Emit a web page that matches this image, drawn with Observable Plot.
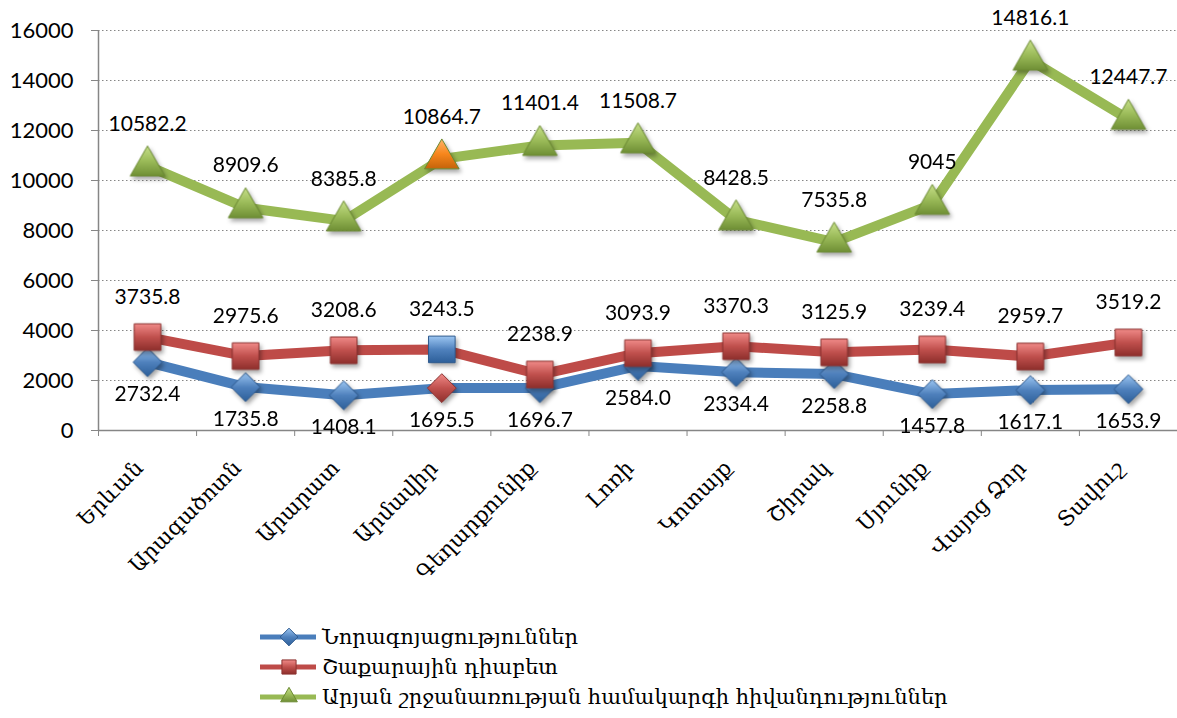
<!DOCTYPE html>
<html><head><meta charset="utf-8">
<script src="https://cdn.jsdelivr.net/npm/d3@7"></script>
<script src="https://cdn.jsdelivr.net/npm/@observablehq/plot@0.6"></script>
<style>
body{margin:0;background:#fff;}
#chart{width:1177px;}
#chart svg g[aria-label="dot"]{filter:drop-shadow(2px 3px 2px rgba(0,0,0,0.35));}
.legend{margin-left:258px;margin-top:12px;font-family:"DejaVu Serif",serif;font-size:21px;color:#000;}
.legend .row{display:flex;align-items:center;height:30px;}
.legend svg{margin-right:4px;}
</style></head><body>
<div id="chart"></div>
<script>
const categories = ["Երևան","Արագածոտն","Արարատ","Արմավիր","Գեղարքունիք","Լոռի","Կոտայք","Շիրակ","Սյունիք","Վայոց Ձոր","Տավուշ"];
const neoplasms = [2732.4,1735.8,1408.1,1695.5,1696.7,2584.0,2334.4,2258.8,1457.8,1617.1,1653.9];
const diabetes = [3735.8,2975.6,3208.6,3243.5,2238.9,3093.9,3370.3,3125.9,3239.4,2959.7,3519.2];
const circulatory = [10582.2,8909.6,8385.8,10864.7,11401.4,11508.7,8428.5,7535.8,9045,14816.1,12447.7];
const seriesNames = ["Նորագոյացություններ","Շաքարային դիաբետ","Արյան շրջանառության համակարգի հիվանդություններ"];
const yTicks = [0,2000,4000,6000,8000,10000,12000,14000,16000];
const highlightCategory = "Արմավիր";

const numFont = "Lato, 'Open Sans', sans-serif";
const series = [
  {name: seriesNames[0], values: neoplasms, line: "#4A7EBB", symbol: "diamond2", r: 13, fill: "url(#gBlue)", hiFill: "url(#gRed)", stroke: "#2f5b8f", hiStroke: "#8c3331", dy: 32, fmt: v => v.toFixed(1)},
  {name: seriesNames[1], values: diabetes, line: "#BE4B48", symbol: "square", r: 15, fill: "url(#gRed)", hiFill: "url(#gBlue)", stroke: "#8c3331", hiStroke: "#2f5b8f", dy: -40, fmt: v => String(v)},
  {name: seriesNames[2], values: circulatory, line: "#98B954", symbol: "triangle2", r: 16.5, fill: "url(#gGreen)", hiFill: "url(#gOrange)", stroke: "#6b8a32", hiStroke: "#6b8a32", dy: -42, fmt: v => String(v)}
];
const rows = series.map(s => s.values.map((v, i) => ({i, cat: categories[i], value: v, series: s.name})));
const boundaries = d3.range(categories.length + 1).map(k => k - 0.5);

const marks = [
  Plot.ruleY(yTicks.filter(t => t > 0), {stroke: "#868686", strokeDasharray: "1.5,2.5", strokeWidth: 1}),
  Plot.ruleX([-0.5], {y1: 0, y2: 16000, stroke: "#868686", strokeWidth: 1.5}),
  Plot.ruleY([0], {stroke: "#868686", strokeWidth: 1.5}),
  Plot.axisY(yTicks, {tickSize: 7, tickPadding: 18, fontSize: 22, fontFamily: numFont, stroke: "#868686", fill: "#000", label: null, tickFormat: d => String(d)}),
  Plot.axisX(boundaries, {tickSize: 6, tickFormat: () => "", stroke: "#868686", label: null}),
  Plot.axisX(d3.range(categories.length), {tickSize: 0, tickPadding: 34, dx: -8, tickRotate: -45, tickFormat: i => categories[i], fontSize: 21.5, fontFamily: "'DejaVu Serif', serif", fill: "#000", label: null})
];
series.forEach((s, k) => {
  marks.push(Plot.line(rows[k], {x: "i", y: "value", stroke: s.line, strokeWidth: 10, strokeLinejoin: "round"}));
});
series.forEach((s, k) => {
  marks.push(Plot.dot(rows[k].filter(d => d.cat !== highlightCategory), {x: "i", y: "value", symbol: s.symbol, r: s.r, fill: s.fill, stroke: s.stroke, strokeWidth: 1}));
  marks.push(Plot.dot(rows[k].filter(d => d.cat === highlightCategory), {x: "i", y: "value", symbol: s.symbol, r: s.r, fill: s.hiFill, stroke: s.hiStroke, strokeWidth: 1}));
});
series.forEach((s, k) => {
  marks.push(Plot.text(rows[k], {x: "i", y: "value", text: d => s.fmt(d.value), dy: s.dy, fontSize: 21, fontFamily: numFont, fill: "#000"}));
});

const chart = Plot.plot({
  width: 1177,
  height: 610,
  marginLeft: 98,
  marginRight: 0,
  marginTop: 30,
  marginBottom: 180,
  x: {type: "linear", domain: [-0.5, categories.length - 0.5], axis: null},
  y: {domain: [0, 16000], axis: null},
  style: {background: "#fff", overflow: "visible"},
  marks
});

const defs = d3.select(chart).insert("defs", ":first-child");
const grads = {gBlue: ["#9cc6f2", "#4f81bd", "#2d5f99"], gRed: ["#f08a88", "#c0504d", "#8e2f2c"], gGreen: ["#c7e08a", "#9bbb59", "#6f8f35"], gOrange: ["#ffb46b", "#f7861c", "#c4630a"]};
for (const [id, [a, b, c]] of Object.entries(grads)) {
  const g = defs.append("linearGradient").attr("id", id).attr("x1", 0).attr("y1", 0).attr("x2", 0).attr("y2", 1);
  g.append("stop").attr("offset", "0%").attr("stop-color", a);
  g.append("stop").attr("offset", "50%").attr("stop-color", b);
  g.append("stop").attr("offset", "100%").attr("stop-color", c);
}
document.getElementById("chart").appendChild(chart);

// legend
const legend = document.createElement("div");
legend.className = "legend";
series.forEach(s => {
  const row = document.createElement("div");
  row.className = "row";
  const svg = d3.create("svg").attr("width", 60).attr("height", 30);
  const d = svg.append("defs");
  for (const [id, [a, b, c]] of Object.entries(grads)) {
    const g = d.append("linearGradient").attr("id", "L" + id).attr("x1", 0).attr("y1", 0).attr("x2", 0).attr("y2", 1);
    g.append("stop").attr("offset", "0%").attr("stop-color", a);
    g.append("stop").attr("offset", "50%").attr("stop-color", b);
    g.append("stop").attr("offset", "100%").attr("stop-color", c);
  }
  svg.append("line").attr("x1", 2).attr("x2", 58).attr("y1", 15).attr("y2", 15).attr("stroke", s.line).attr("stroke-width", 5);
  const symMap = {diamond2: d3.symbolDiamond2, square: d3.symbolSquare, triangle2: d3.symbolTriangle2};
  svg.append("path").attr("d", d3.symbol(symMap[s.symbol], 200)()).attr("transform", "translate(31,15)")
    .attr("fill", s.fill.replace("#", "#L")).attr("stroke", s.stroke);
  row.appendChild(svg.node());
  const t = document.createElement("span");
  t.textContent = s.name;
  row.appendChild(t);
  legend.appendChild(row);
});
document.getElementById("chart").appendChild(legend);
</script>
</body></html>
